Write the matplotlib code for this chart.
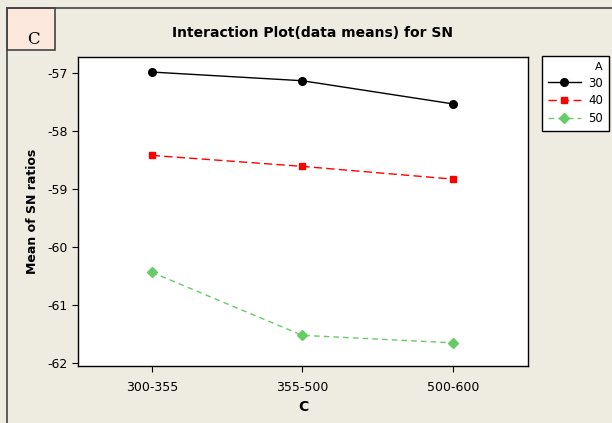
import matplotlib.pyplot as plt
from matplotlib.patches import Rectangle
from matplotlib.lines import Line2D

# data
levels_c = ['300-355', '355-500', '500-600']
sn_a30 = [-56.98, -57.13, -57.53]
sn_a40 = [-58.42, -58.61, -58.83]
sn_a50 = [-60.44, -61.53, -61.66]
a_labels = ['30', '40', '50']

plt.rcParams['axes.unicode_minus'] = False

bg = '#eeebe1'
fig = plt.figure(figsize=(6.12, 4.23), dpi=100)
fig.patch.set_facecolor(bg)

# outer frame lines (top and left) and the small "C" box
fig.add_artist(Line2D([7/612, 1], [1 - 8/423, 1 - 8/423], color='#444444', lw=1.2))
fig.add_artist(Line2D([7/612, 7/612], [0, 1 - 8/423], color='#444444', lw=1.2))
fig.add_artist(Rectangle((7/612, 1 - 50/423), 48/612, 42/423, facecolor='#fce8dc',
                         edgecolor='#444444', lw=1.2))
fig.text(33/612, 1 - 40/423, 'C', fontsize=12, family='serif', ha='center', va='center')

ax = fig.add_axes([78/612, 1 - 366/423, 450/612, 309/423])
ax.set_facecolor('white')
x = range(len(levels_c))

ax.plot(x, sn_a30, color='black', lw=1, marker='o', ms=5.5, label=a_labels[0])
ax.plot(x, sn_a40, color='red', lw=1, ls=(0, (6, 3)), marker='s', ms=5, label=a_labels[1])
ax.plot(x, sn_a50, color='#66cc66', lw=1, ls=(0, (4, 3)), marker='D', ms=5, label=a_labels[2])

ax.set_xlim(-0.49, 2.5)
ax.set_ylim(-62.06, -56.72)
ax.set_xticks(list(x))
ax.set_xticklabels(levels_c)
ax.set_yticks([-57, -58, -59, -60, -61, -62])
ax.tick_params(direction='out', length=4, labelsize=9, colors='black')
ax.tick_params(axis='x', pad=7)
for s in ax.spines.values():
    s.set_color('black')
    s.set_linewidth(1)

ax.set_xlabel('C', fontsize=10, fontweight='bold', labelpad=4)
ax.set_ylabel('Mean of SN ratios', fontsize=9, fontweight='bold', labelpad=6)
fig.text(312/612, 1 - 33/423, 'Interaction Plot(data means) for SN', fontsize=10,
         fontweight='bold', ha='center', va='center')

leg = ax.legend(title='A', loc='upper left', bbox_to_anchor=(542/612, 1 - 56/423),
                bbox_transform=fig.transFigure, fontsize=8.5, title_fontsize=8,
                frameon=True, fancybox=False, edgecolor='black', facecolor='white',
                framealpha=1, handlelength=2.8, handletextpad=0.6, borderaxespad=0,
                alignment='right', borderpad=0.5, labelspacing=0.4)
leg.get_frame().set_linewidth(1)

fig.savefig('out.png', dpi=100, facecolor=bg)
